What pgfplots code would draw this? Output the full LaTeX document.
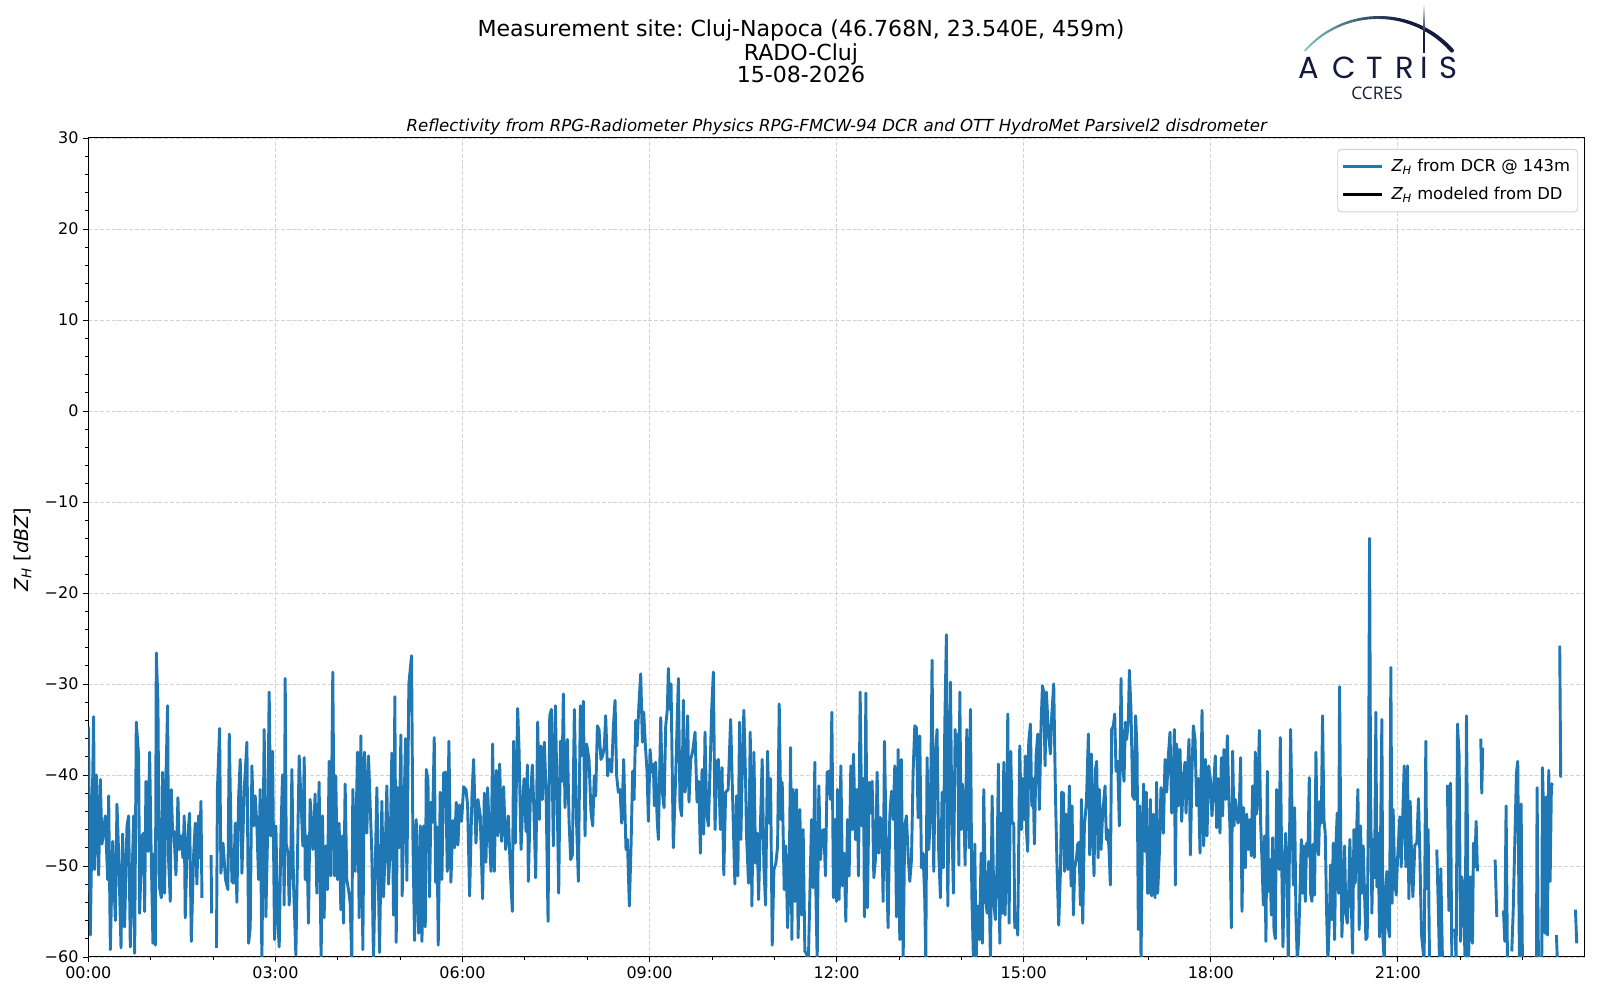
\documentclass[border=0pt]{standalone}
\usepackage{fontspec}
\setmainfont{DejaVu Sans}
\newfontfamily\popfont{Poppins}
\newfontfamily\osfont{Open Sans}
\usepackage{pgfplots}
\pgfplotsset{compat=1.18}
\usepackage{pgfplotstable}
\definecolor{mplblue}{HTML}{1F77B4}
\definecolor{gridc}{HTML}{D3D3D3}
\definecolor{navy}{HTML}{141A3C}
\definecolor{tealL}{HTML}{7CC9C3}
\frenchspacing

\pgfplotstableread{
t z
0.003 -34.7
0.032 -57.6
0.085 -33.6
0.100 -50.4
0.128 -40
0.166 -51
0.192 -40.5
0.219 -47.6
0.272 -44.5
0.310 -51.5
0.326 -42.3
0.353 -59.2
0.390 -47.3
0.433 -56
0.459 -43.2
0.486 -48.6
0.524 -59
0.550 -46.5
0.582 -56.7
0.620 -45.6
0.646 -44.5
0.673 -58.9
0.727 -44.5
0.743 -59.6
0.769 -34.2
0.807 -37.9
0.823 -55.2
0.860 -46.7
0.887 -46.4
0.903 -55
0.924 -40.7
0.956 -48.4
0.983 -37.5
1.004 -47.1
1.036 -58.5
1.058 -48.6
1.074 -58.7
1.090 -26.6
1.116 -32
1.138 -52.2
1.170 -53.5
1.191 -39.7
1.223 -53
1.245 -40.3
1.271 -32.4
1.287 -49.3
1.314 -53.9
1.330 -41.6
1.352 -46.5
1.373 -46.2
1.405 -51
1.437 -42.5
1.458 -48.2
1.485 -46.7
1.517 -49.1
1.538 -44.5
1.554 -55.7
1.587 -47.3
1.624 -44.2
1.651 -58.3
1.688 -48.9
1.715 -45.3
1.741 -52
1.768 -44.5
1.784 -49.1
1.806 -42.9
1.822 -53.5
1.900 nan
1.968 -48.8
1.978 -55.2
2.010 nan
2.055 -59
2.070 -41.6
2.105 -34.9
2.126 -50.8
2.160 -47.5
2.200 -51.5
2.238 -52.6
2.260 -35.5
2.302 -51.7
2.330 -51.9
2.356 -45.3
2.382 -54
2.409 -42.7
2.436 -38.3
2.463 -50.8
2.500 -41.6
2.543 -36.4
2.570 -58.5
2.596 -56.8
2.623 -39
2.650 -45.6
2.676 -42.3
2.703 -45.6
2.730 -51.5
2.756 -41.6
2.783 -60.5
2.820 -35
2.847 -55.6
2.874 -46.7
2.900 -30.9
2.927 -46.7
2.954 -37.4
2.986 -58.1
3.008 -45.6
3.034 -55.7
3.061 -58.9
3.088 -46.7
3.114 -40
3.141 -54.3
3.157 -29.4
3.173 -47.5
3.200 -48.6
3.221 -54.3
3.248 -48.6
3.264 -39.4
3.290 -51.9
3.328 -59.8
3.381 -37.9
3.440 -47.8
3.462 -38.1
3.478 -51.5
3.504 -46.7
3.530 -56.3
3.557 -42.7
3.600 -48.2
3.637 -42.1
3.664 -53
3.701 -40.8
3.733 -60.5
3.755 -44.5
3.781 -55.7
3.808 -47.8
3.835 -52.6
3.862 -38.5
3.888 -51.1
3.920 -28.7
3.947 -51.1
3.968 -40.1
3.995 -51.5
4.022 -45.3
4.049 -54.8
4.076 -46.7
4.092 -56.3
4.118 -41
4.145 -51.5
4.172 -52.6
4.199 -54.1
4.225 -60.5
4.241 -41.6
4.279 -50.6
4.316 -37.5
4.343 -55.7
4.370 -35.7
4.402 -59.2
4.428 -37.5
4.466 -46.4
4.493 -37.9
4.546 -48.6
4.573 -60.5
4.600 -50.6
4.627 -41.4
4.670 -59.5
4.707 -42.9
4.733 -53.4
4.760 -48.6
4.787 -41.2
4.814 -52
4.840 -48
4.867 -37.6
4.894 -55.4
4.915 -31.4
4.937 -58.4
4.958 -41.4
4.985 -48
5.012 -35.6
5.033 -53.3
5.065 -42.9
5.087 -36
5.108 -51.6
5.140 -30
5.183 -26.9
5.204 -46.4
5.231 -58.2
5.258 -44.9
5.296 -57.4
5.323 -45.6
5.350 -58.3
5.376 -45.6
5.403 -56.7
5.419 -39.4
5.446 -40.5
5.472 -53.4
5.494 -43
5.521 -45.2
5.547 -35.9
5.569 -51.8
5.590 -45.7
5.611 -58.7
5.643 -41.9
5.670 -51.5
5.697 -39.8
5.729 -39.7
5.756 -50.6
5.782 -36.3
5.814 -51.8
5.846 -45
5.873 -48
5.900 -43
5.927 -47.7
5.953 -43.3
5.986 -45.1
6.018 -41.3
6.056 -41.6
6.082 -43.3
6.114 -53.3
6.152 -42.3
6.178 -38.3
6.216 -47.5
6.248 -42.7
6.285 -44.5
6.323 -53.6
6.350 -42
6.376 -49.6
6.403 -41.4
6.430 -46.4
6.457 -50.6
6.483 -36.6
6.510 -50.6
6.542 -39.5
6.569 -46.7
6.596 -38.8
6.628 -47.3
6.660 -41.3
6.692 -48.2
6.735 -44.5
6.767 -50.6
6.799 -55
6.820 -36.3
6.847 -47.5
6.885 -32.7
6.907 -37.2
6.939 -48.2
6.965 -43.4
6.987 -40.4
7.019 -46.2
7.040 -38.9
7.056 -51.7
7.088 -42.7
7.120 -38.9
7.147 -44.2
7.174 -51.3
7.206 -34.2
7.233 -44.9
7.259 -36.8
7.281 -42.7
7.313 -36.4
7.340 -41.9
7.372 -56.1
7.399 -33.5
7.425 -32.8
7.457 -47.8
7.489 -32.4
7.516 -41.6
7.543 -53
7.570 -36.3
7.596 -40.7
7.617 -31.1
7.644 -43.6
7.682 -36.1
7.708 -44.9
7.735 -49.3
7.762 -48.8
7.794 -32.8
7.826 -44.5
7.858 -51.7
7.890 -32.4
7.911 -37.9
7.938 -31.9
7.965 -46.7
7.991 -36.6
8.029 -38.3
8.061 -44.2
8.088 -45.6
8.114 -40.1
8.136 -42.3
8.163 -34.6
8.189 -35
8.221 -38.3
8.248 -37.9
8.275 -36.8
8.296 -33.5
8.328 -40.1
8.360 -38.3
8.392 -39.7
8.419 -34.8
8.446 -31.8
8.472 -40.1
8.499 -41.9
8.526 -41.6
8.553 -45.3
8.585 -38.3
8.606 -44.2
8.622 -48.2
8.644 -47.1
8.676 -54.4
8.703 -47.8
8.729 -39.6
8.751 -42.7
8.778 -34
8.799 -36.8
8.831 -32
8.858 -28.9
8.885 -36.4
8.906 -33.1
8.933 -36.8
8.959 -39.6
8.981 -45.1
9.008 -37.2
9.034 -39.7
9.061 -38.8
9.077 -43.4
9.098 -38.6
9.120 -44.7
9.141 -47.1
9.179 -33.7
9.205 -41.9
9.232 -43.6
9.259 -34.6
9.285 -32.8
9.301 -28.3
9.323 -32.8
9.344 -30
9.381 -48
9.419 -40.1
9.462 -29.4
9.488 -43.4
9.515 -44.5
9.542 -31.8
9.568 -41.9
9.595 -40.1
9.611 -33.5
9.632 -43
9.659 -38.3
9.691 -37.4
9.729 -35.3
9.761 -43
9.788 -40.7
9.815 -48.6
9.841 -39.4
9.868 -46.5
9.889 -35.3
9.916 -44.2
9.943 -45.6
9.970 -39.4
9.996 -32.8
10.023 -28.7
10.050 -46
10.076 -38.6
10.103 -38.3
10.135 -46
10.162 -39.2
10.190 -51
10.220 -41.9
10.260 -41.6
10.300 -33.9
10.341 -45
10.368 -52
10.395 -42.3
10.416 -51.1
10.443 -34.2
10.464 -47.1
10.486 -39.4
10.512 -32.9
10.539 -40.4
10.555 -46.7
10.587 -51.9
10.614 -35.3
10.641 -54.4
10.673 -37.5
10.700 -49.7
10.726 -46.4
10.748 -53.7
10.774 -46.5
10.806 -38.3
10.833 -50
10.860 -54.3
10.892 -37.4
10.919 -45.3
10.940 -40.4
10.967 -58.7
10.994 -50.4
11.026 -49.7
11.053 -47.8
11.079 -32.2
11.106 -44.9
11.127 -40.8
11.159 -52.6
11.186 -47.8
11.213 -56.8
11.239 -51.5
11.261 -37
11.282 -58.1
11.303 -41.6
11.330 -53.9
11.356 -41.6
11.383 -57.9
11.410 -43.8
11.437 -55.4
11.463 -46
11.490 -59.4
11.517 -59.6
11.545 -61
11.597 -44.9
11.623 -52.4
11.650 -38.6
11.666 -52.6
11.688 -60.5
11.714 -41.2
11.741 -49.3
11.768 -46.2
11.794 -46
11.821 -51.1
11.848 -39.7
11.875 -39.6
11.901 -42.7
11.923 -33.1
11.949 -53.5
11.976 -44.9
11.997 -53.9
12.013 -41.6
12.040 -53.7
12.067 -39
12.094 -52.2
12.120 -48.6
12.147 -56.1
12.174 -44.9
12.200 -51.1
12.227 -39
12.254 -46
12.270 -37.7
12.302 -47.1
12.329 -41.6
12.350 -51.1
12.377 -30.9
12.403 -45.6
12.430 -40.4
12.446 -55.6
12.468 -31
12.494 -54.6
12.521 -40.8
12.542 -44.2
12.569 -40.7
12.596 -51.3
12.622 -49.3
12.649 -39.7
12.676 -48.6
12.703 -44.7
12.729 -47.5
12.745 -53.9
12.767 -36.3
12.799 -49.5
12.825 -56.8
12.852 -44.5
12.879 -41.8
12.906 -44.9
12.932 -39
12.959 -55.6
12.986 -37.2
13.012 -58.1
13.039 -38.3
13.066 -60.5
13.092 -45.6
13.119 -44.5
13.146 -48.8
13.173 -51.7
13.200 -49.3
13.226 -39.7
13.253 -34.6
13.279 -34.8
13.306 -44.7
13.333 -35.7
13.360 -50.2
13.386 -48.6
13.413 -53.7
13.429 -60.5
13.450 -38.1
13.477 -48.2
13.504 -44.5
13.530 -27.4
13.557 -50.6
13.584 -37.9
13.610 -35
13.637 -48.6
13.664 -53.5
13.691 -41.9
13.712 -50.2
13.734 -34.6
13.760 -24.6
13.782 -54.4
13.825 -29.8
13.847 -44.9
13.873 -53
13.900 -35
13.921 -39
13.943 -35.5
13.959 -49.9
13.975 -30.9
13.996 -46
14.017 -41
14.039 -43.4
14.060 -49.9
14.087 -35
14.103 -39.7
14.124 -48
14.146 -32.8
14.167 -53
14.194 -60.5
14.215 -47.6
14.236 -60.5
14.263 -54.4
14.290 -58.1
14.317 -48.6
14.338 -58.5
14.359 -41.6
14.386 -53.3
14.413 -55.2
14.439 -49.5
14.466 -60.5
14.493 -42.3
14.520 -54.1
14.546 -55.9
14.573 -49.5
14.594 -38.8
14.616 -58.5
14.637 -44.2
14.658 -55.2
14.680 -38.6
14.701 -55.4
14.723 -48.2
14.744 -33.3
14.765 -56.3
14.792 -37.4
14.813 -45.3
14.840 -45.3
14.856 -56.8
14.883 -55.2
14.904 -57.6
14.936 -36.8
14.963 -46
14.984 -40.4
15.011 -44.9
15.027 -37.9
15.048 -46.7
15.064 -48.4
15.080 -36.4
15.107 -34.4
15.129 -43.4
15.150 -40.4
15.171 -47.6
15.198 -37.9
15.225 -35.5
15.251 -43.8
15.278 -34.4
15.300 -30.2
15.321 -30.9
15.342 -39
15.364 -30.9
15.385 -33.9
15.406 -36.1
15.428 -37.7
15.449 -33.5
15.481 -30
15.508 -41.9
15.535 -50.4
15.561 -56.5
15.588 -50.8
15.609 -41.9
15.636 -42
15.652 -50.6
15.679 -44.3
15.706 -50.4
15.732 -41.2
15.759 -52.2
15.775 -43.4
15.796 -55.4
15.818 -50.2
15.844 -49.3
15.866 -47.6
15.887 -47.4
15.908 -54.3
15.925 -42.7
15.946 -56.3
15.973 -45.6
16.005 -43
16.037 -35.5
16.058 -48.8
16.085 -37.7
16.106 -46
16.127 -51.1
16.149 -39.4
16.170 -38.5
16.192 -49.1
16.213 -41.6
16.240 -48.2
16.261 -44.9
16.282 -43
16.304 -41.2
16.325 -47.1
16.346 -46
16.368 -48.2
16.389 -52.1
16.410 -35
16.437 -34.6
16.459 -33.3
16.480 -39.6
16.507 -38.5
16.533 -45.6
16.560 -29.4
16.580 -38.3
16.608 -40.7
16.630 -34.2
16.651 -36.1
16.678 -33.9
16.694 -28.5
16.720 -32.8
16.747 -42.3
16.774 -42.7
16.795 -33.5
16.817 -37.5
16.838 -57
16.859 -43.4
16.881 -60.5
16.902 -46.7
16.923 -41
16.945 -48.4
16.966 -41.9
16.987 -53
17.009 -53
17.030 -42.7
17.052 -53.3
17.078 -44.3
17.105 -53.5
17.132 -40.8
17.148 -53
17.175 -48.6
17.201 -41.4
17.239 -46.4
17.266 -38.3
17.293 -41.9
17.319 -37.9
17.346 -35.3
17.373 -44.2
17.389 -43.4
17.415 -35
17.431 -52.1
17.453 -36.6
17.479 -43.4
17.506 -37.2
17.533 -45.1
17.560 -40.3
17.586 -38.6
17.602 -44.2
17.629 -39.2
17.650 -36.1
17.672 -48.8
17.699 -39.4
17.720 -34.6
17.747 -36.1
17.773 -43.4
17.800 -40.4
17.827 -48.6
17.859 -32.9
17.886 -47.8
17.912 -38.3
17.939 -46.7
17.966 -39
17.992 -40.4
18.019 -44.5
18.046 -41.2
18.072 -37.9
18.094 -45.8
18.120 -40.4
18.147 -46.4
18.169 -38.1
18.190 -44.5
18.211 -37.2
18.238 -42.7
18.265 -35.7
18.286 -41.9
18.308 -46
18.329 -56.8
18.350 -37.4
18.372 -45.6
18.393 -42.7
18.414 -44.2
18.436 -45.3
18.457 -43.6
18.478 -38.1
18.500 -55
18.526 -43.6
18.553 -50.2
18.575 -44.3
18.601 -48.2
18.628 -44.9
18.649 -48.9
18.671 -41.2
18.697 -49.1
18.713 -37.5
18.735 -44.3
18.756 -41.6
18.778 -35.1
18.799 -45.3
18.820 -49.3
18.842 -54.3
18.863 -46.7
18.884 -58.3
18.906 -39.6
18.927 -52.8
18.948 -49.3
18.970 -55.4
18.991 -46.9
19.013 -57
19.034 -58
19.055 -41.6
19.077 -49.3
19.098 -50.4
19.114 -35.9
19.135 -48.6
19.157 -58.9
19.178 -50.4
19.200 -46.4
19.221 -49.3
19.242 -60.5
19.264 -46
19.280 -35
19.301 -43.6
19.323 -52.1
19.344 -43.6
19.365 -55.4
19.387 -60.5
19.408 -58.1
19.429 -53.3
19.451 -47.1
19.472 -53
19.493 -47.8
19.515 -53.9
19.536 -47.5
19.557 -48.9
19.579 -40.3
19.600 -53
19.622 -53.9
19.643 -47.6
19.664 -53.2
19.686 -37.5
19.707 -47.5
19.728 -48.8
19.750 -42.9
19.771 -45.3
19.792 -33.5
19.814 -44.9
19.835 -46.4
19.857 -55.2
19.878 -60.5
19.899 -56.3
19.921 -49.9
19.942 -55.9
19.963 -47.5
19.985 -58.1
20.006 -47.8
20.027 -44.2
20.049 -53
20.065 -30.3
20.086 -48.9
20.102 -57.8
20.124 -53
20.145 -47.8
20.166 -55.2
20.188 -56.3
20.209 -53.3
20.230 -47.1
20.252 -53.7
20.273 -59.6
20.295 -46
20.316 -51.9
20.337 -46.4
20.359 -41.6
20.380 -57
20.401 -45.6
20.423 -53
20.444 -47.8
20.466 -53.3
20.487 -58.1
20.508 -57.8
20.530 -41.5
20.546 -14
20.562 -41.6
20.583 -55.2
20.604 -47.1
20.626 -51.3
20.647 -33.1
20.663 -52.3
20.684 -46.4
20.705 -57.8
20.743 -33.9
20.759 -57.8
20.780 -60.5
20.807 -52.3
20.823 -50.6
20.844 -56.7
20.866 -57.8
20.887 -28.2
20.908 -54.1
20.924 -43.8
20.951 -51.7
20.973 -53.2
20.994 -49.3
21.031 -44.6
21.053 -50.1
21.101 -39
21.127 -50.1
21.154 -39
21.176 -53.6
21.197 -42.9
21.218 -48.6
21.240 -53.4
21.272 -47.7
21.304 -47.5
21.330 -42.6
21.352 -48.6
21.379 -57.6
21.421 -60.5
21.448 -36.3
21.464 -52.5
21.485 -46
21.507 -60.5
21.560 nan
21.624 -48.2
21.646 -54.1
21.667 -60.5
21.688 -50.3
21.715 -60.5
21.750 nan
21.795 -41.1
21.817 -54.9
21.843 -40.9
21.865 -60.5
21.890 nan
21.913 -56.9
21.934 -60.5
21.956 -34.4
21.982 -37.9
22.004 -58.3
22.025 -51.2
22.046 -52.3
22.078 -60.5
22.100 -33.5
22.132 -60.5
22.169 -51.2
22.196 -58.5
22.212 -47.5
22.233 -50.1
22.255 -45.1
22.276 -50.6
22.300 nan
22.329 -36
22.345 -42
22.361 -37
22.450 nan
22.559 -49.3
22.586 -55.6
22.640 nan
22.693 -54.9
22.714 -58.3
22.735 -43.4
22.757 -60.5
22.790 nan
22.826 -59.4
22.848 -55.2
22.901 -39.8
22.922 -38.5
22.949 -60.5
22.976 -43.2
22.997 -60.5
23.100 nan
23.222 -60.5
23.232 -41.4
23.254 -60.5
23.280 nan
23.307 -60.5
23.318 -39.2
23.344 -46.4
23.360 -57.4
23.382 -42.4
23.398 -57.6
23.419 -39.5
23.441 -51.7
23.462 -41.1
23.483 -40.9
23.510 nan
23.542 -57.6
23.558 -60.5
23.575 nan
23.595 -25.8
23.611 -40.3
23.700 nan
23.847 -54.8
23.868 -58.5
}\dcr

\begin{document}
\begin{tikzpicture}
\begin{axis}[
  at={(63.6pt,31pt)}, anchor=south west,
  scale only axis, width=1077.6pt, height=589.7pt,
  xmin=0, xmax=24, ymin=-60, ymax=30,
  xtick={0,3,...,21},
  xticklabels={00:00,03:00,06:00,09:00,12:00,15:00,18:00,21:00},
  minor xtick={1,2,4,5,7,8,10,11,13,14,16,17,19,20,22,23},
  ytick={-60,-50,...,30},
  yticklabels={−60,−50,−40,−30,−20,−10,0,10,20,30},
  minor y tick num=4,
  tick align=outside, xtick pos=bottom, ytick pos=left,
  major tick length=3.6pt, minor tick length=2.1pt,
  every tick/.style={black, line width=0.6pt},
  grid=major,
  major grid style={gridc, dash pattern=on 2.9pt off 1.3pt, line width=0.6pt},
  axis line style={black, line width=0.7pt},
  tick label style={font=\fontsize{11.5}{13.8}\selectfont},
  /pgf/number format/assume math mode=true,
  unbounded coords=jump,
  legend cell align=left,
  legend style={at={(0.9955,0.9866)}, anchor=north east,
    draw=black!18, line width=0.7pt, rounded corners=2.5pt, fill=white,
    font=\fontsize{11.8}{14}\selectfont,
    inner xsep=2.5pt, inner ysep=5pt, row sep=6pt,
    nodes={inner xsep=3pt, inner ysep=2pt}},
  legend image code/.code={\draw[#1] (0pt,0pt) -- (28.5pt,0pt);},
  /tikz/every odd column/.append style={column sep=2.6pt},
]
\addplot[mplblue, line width=2.1pt, line join=round] table[x=t, y=z] {\dcr};
\addlegendentry{{\itshape Z}\textsubscript{\itshape H} from DCR @ 143m}
\addlegendimage{black, line width=2.1pt}
\addlegendentry{{\itshape Z}\textsubscript{\itshape H} modeled from DD}
\end{axis}

\begin{scope}[x=0.72pt, y=-0.72pt, shift={(0pt,720pt)}]
  % titles
  \node[anchor=base, font=\fontsize{15.9}{18}\selectfont, inner sep=0] at (801,36.7) {Measurement site: Cluj-Napoca (46.768N, 23.540E, 459m)};
  \node[anchor=base, font=\fontsize{15.9}{18}\selectfont, inner sep=0] at (801,60.2) {RADO-Cluj};
  \node[anchor=base, font=\fontsize{15.9}{18}\selectfont, inner sep=0] at (801,82.7) {15-08-2026};
  \node[anchor=base, font=\itshape\fontsize{11.95}{14}\selectfont, inner sep=0] at (836.7,131.8) {Reflectivity from RPG-Radiometer Physics RPG-FMCW-94 DCR and OTT HydroMet Parsivel2 disdrometer};
  % y label
  \node[rotate=90, font=\fontsize{13.8}{16}\selectfont, inner sep=0] at (22.5,549.6) {{\itshape Z}\textsubscript{\itshape H} [{\itshape dBZ}]};
  % logo arc
  \foreach \i in {0,...,39}{
    \pgfmathsetmacro{\aa}{138.5-\i*97/40}
    \pgfmathsetmacro{\ab}{138.5-(\i+1)*97/40}
    \pgfmathtruncatemacro{\pc}{max(0,100-\i*100/26)}
    \pgfmathsetmacro{\lw}{1.3+1.6*\i/39}
    \draw[line width=\lw pt, color=tealL!\pc!navy, line cap=round]
      ({1378.5+98*cos(\aa)},{115.5-98*sin(\aa)}) -- ({1378.5+98*cos(\ab)},{115.5-98*sin(\ab)});
  }
  % vertical line fading upwards
  \foreach \i in {0,...,19}{
    \pgfmathtruncatemacro{\pv}{min(100,\i*100/12)}
    \draw[line width=1.6pt, color=navy!\pv!white] (1424,{3+\i*2.5}) -- (1424,{3+(\i+1)*2.5});
  }
  \foreach \x/\l in {1308.5/A,1344/C,1375/T,1404.5/R,1424/I,1448/S}{
    \node[anchor=base, font=\popfont\fontsize{22}{22}\selectfont, text=navy, inner sep=0] at (\x,78.5) {\l};
  }
  \node[anchor=base, font=\osfont\fontsize{12.5}{14}\selectfont, text=navy, inner sep=0] at (1377,99.5) {CCRES};
\end{scope}
\pgfresetboundingbox
\path (0pt,0pt) rectangle (1152pt,720pt);
\end{tikzpicture}
\end{document}
